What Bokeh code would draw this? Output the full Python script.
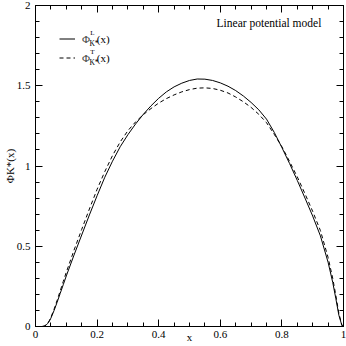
from bokeh.plotting import figure
from bokeh.models import (LinearAxis, FixedTicker, Range1d, Label, Legend,
                          LegendItem, ColumnDataSource)
from bokeh.embed import file_html
from bokeh.resources import INLINE

# ---- data ----
x_vals = [0.000, 0.020, 0.025, 0.030, 0.035, 0.040, 0.045, 0.050, 0.060, 0.070,
          0.080, 0.090, 0.100, 0.125, 0.150, 0.175, 0.200, 0.225, 0.250, 0.275,
          0.300, 0.325, 0.350, 0.375, 0.400, 0.425, 0.450, 0.475, 0.500, 0.525,
          0.550, 0.575, 0.600, 0.625, 0.650, 0.675, 0.700, 0.725, 0.750, 0.775,
          0.800, 0.825, 0.850, 0.875, 0.900, 0.925, 0.950, 0.965, 0.975, 0.985,
          0.995, 1.000]
phi_L = [0.0, 0.0, 0.001, 0.004, 0.010, 0.020, 0.034, 0.052, 0.098, 0.150,
         0.205, 0.260, 0.315, 0.445, 0.570, 0.695, 0.815, 0.930, 1.030, 1.120,
         1.195, 1.262, 1.322, 1.375, 1.422, 1.462, 1.493, 1.516, 1.533, 1.542,
         1.541, 1.533, 1.518, 1.497, 1.470, 1.436, 1.396, 1.350, 1.292, 1.210,
         1.115, 1.015, 0.910, 0.800, 0.688, 0.565, 0.400, 0.275, 0.175, 0.070,
         0.005, 0.0]
phi_T = [0.0, 0.0, 0.001, 0.004, 0.011, 0.022, 0.037, 0.057, 0.106, 0.162,
         0.220, 0.280, 0.338, 0.475, 0.605, 0.732, 0.855, 0.965, 1.065, 1.150,
         1.220, 1.275, 1.320, 1.358, 1.392, 1.420, 1.443, 1.462, 1.476, 1.485,
         1.487, 1.483, 1.472, 1.455, 1.430, 1.400, 1.365, 1.322, 1.270, 1.198,
         1.120, 1.028, 0.932, 0.827, 0.717, 0.598, 0.430, 0.300, 0.195, 0.082,
         0.007, 0.0]

x_major_ticks = [0.0, 0.2, 0.4, 0.6, 0.8, 1.0]
x_tick_labels = ["0", "0.2", "0.4", "0.6", "0.8", "1"]
x_minor_ticks = [0.05, 0.1, 0.15, 0.25, 0.3, 0.35, 0.45, 0.5, 0.55, 0.65,
                 0.7, 0.75, 0.85, 0.9, 0.95]
y_major_ticks = [0.0, 0.5, 1.0, 1.5, 2.0]
y_tick_labels = ["0", "0.5", "1", "1.5", "2"]
y_minor_ticks = [0.1, 0.2, 0.3, 0.4, 0.6, 0.7, 0.8, 0.9, 1.1, 1.2, 1.3, 1.4,
                 1.6, 1.7, 1.8, 1.9]

title_text = "Linear potential model"
x_label = "x"
y_label = "ΦK*(x)"
legend_sup = ["L", "T"]

FONT = "Liberation Serif"

src = ColumnDataSource(dict(x=x_vals, L=phi_L, T=phi_T))

p = figure(width=346, height=346, output_backend="svg",
           toolbar_location=None, x_range=Range1d(0, 1), y_range=Range1d(0, 2),
           min_border_left=34, min_border_right=3, min_border_top=5,
           min_border_bottom=20, x_axis_location=None, y_axis_location=None)
p.grid.visible = False
p.outline_line_color = "black"
p.outline_line_width = 1
p.background_fill_color = "white"
p.border_fill_color = "white"

xt = FixedTicker(ticks=x_major_ticks, minor_ticks=x_minor_ticks)
yt = FixedTicker(ticks=y_major_ticks, minor_ticks=y_minor_ticks)


def style(ax, show_labels):
    ax.axis_line_color = "black"
    ax.major_tick_line_color = "black"
    ax.minor_tick_line_color = "black"
    ax.major_tick_in = 7
    ax.major_tick_out = 0
    ax.minor_tick_in = 4
    ax.minor_tick_out = 0
    ax.major_label_text_font = FONT
    ax.axis_label_text_font = FONT
    ax.axis_label_text_font_style = "normal"
    ax.axis_label_text_color = "black"
    ax.axis_label_text_font_size = "11px"
    if show_labels:
        ax.major_label_text_color = "black"
        ax.major_label_text_font_size = "11px"
        ax.major_label_standoff = 4
    else:
        ax.major_label_text_color = None
        ax.major_label_text_font_size = "1px"
        ax.major_label_standoff = 0


xb = LinearAxis(ticker=xt, major_label_overrides=dict(zip(x_major_ticks, x_tick_labels)),
                axis_label=x_label)
style(xb, True)
xb.axis_label_standoff = -10
yl = LinearAxis(ticker=yt, major_label_overrides=dict(zip(y_major_ticks, y_tick_labels)),
                axis_label=y_label)
style(yl, True)
yl.major_label_standoff = 5
yl.axis_label_standoff = -2
xa = LinearAxis(ticker=xt)
style(xa, False)
yr = LinearAxis(ticker=yt)
style(yr, False)
p.add_layout(xb, "below")
p.add_layout(yl, "left")
p.add_layout(xa, "above")
p.add_layout(yr, "right")

rL = p.line("x", "L", source=src, line_color="black", line_width=1)
rT = p.line("x", "T", source=src, line_color="black", line_width=1,
            line_dash="4 3")

legend = Legend(items=[LegendItem(label="Φ", renderers=[rL]),
                       LegendItem(label="Φ", renderers=[rT])],
                location="top_left", margin=24, padding=0, spacing=0,
                glyph_width=16, glyph_height=19, label_height=19,
                label_standoff=7, label_text_font=FONT,
                label_text_font_size="11px", border_line_color=None,
                background_fill_alpha=0)
p.add_layout(legend)


def mk(text, x, y, size, **kw):
    opts = dict(x_units="data", y_units="data", text_font=FONT,
                text_font_style="normal", text_font_size=size,
                text_color="black", text_baseline="middle", text_align="left")
    opts.update(kw)
    return Label(x=x, y=y, text=text, **opts)


# legend super/subscripts (data units)
for row, sup in enumerate(legend_sup):
    yc = 1.794 - 0.118 * row
    p.add_layout(mk(sup, 0.178, yc + 0.035, "7px"))
    p.add_layout(mk("K*", 0.175, yc - 0.03, "7.5px"))
    p.add_layout(mk("(x)", 0.199, yc, "11px"))

# title text
p.add_layout(mk(title_text, 0.928, 1.89, "11.5px", text_align="right"))

open("out.html", "w").write(file_html(p, INLINE))
